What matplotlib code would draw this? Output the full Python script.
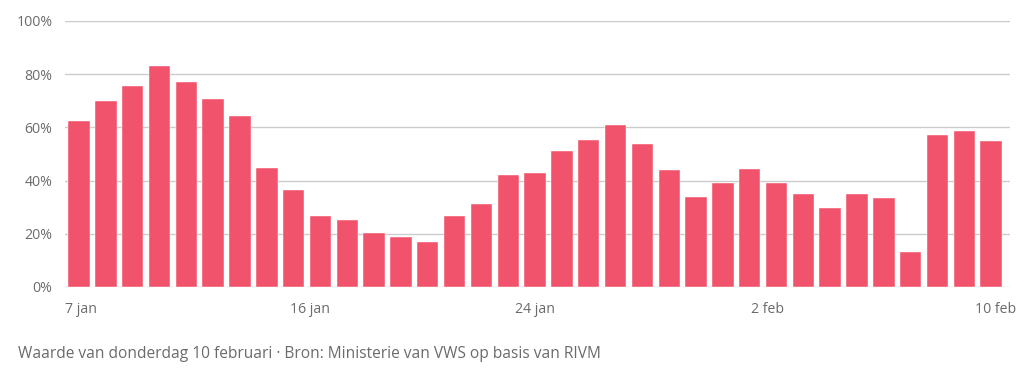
import matplotlib
matplotlib.use("Agg")
import matplotlib.pyplot as plt
from matplotlib.ticker import FuncFormatter
import matplotlib.transforms as mtransforms

plt.rcParams['font.family'] = ['Open Sans', 'DejaVu Sans']

dates = [f"{d} jan" for d in range(7, 32)] + [f"{d} feb" for d in range(1, 11)]
values = [62.4, 70.0, 75.7, 83.2, 77.2, 70.6, 64.3, 44.9, 36.3, 26.8, 25.3,
          20.2, 18.8, 16.9, 26.8, 31.2, 42.1, 43.0, 51.0, 55.3, 60.9, 53.9, 43.9,
          33.9, 39.1, 44.4, 39.1, 35.0, 29.7, 35.0, 33.5, 13.0, 57.1, 58.5, 54.8]
tick_dates = ["7 jan", "16 jan", "24 jan", "2 feb", "10 feb"]
y_ticks = [0, 20, 40, 60, 80, 100]
caption = "Waarde van donderdag 10 februari · Bron: Ministerie van VWS op basis van RIVM"

bar_color = "#F0536B"
text_color = "#6b6b6b"
grid_color = "#cccccc"

fig = plt.figure(figsize=(10.24, 3.76), dpi=100)
ax = fig.add_axes([65/1024, 89/376, 945/1024, 266/376])

x = list(range(len(values)))
ax.bar(x, values, width=0.8, color=bar_color, edgecolor="white", linewidth=0.3, zorder=3)

ax.set_ylim(0, 100)
ax.set_xlim(-0.52, len(values) - 0.3)
ax.set_yticks(y_ticks)
ax.yaxis.set_major_formatter(FuncFormatter(lambda v, p: f"{v:.0f}%"))
ax.grid(axis="y", color=grid_color, linewidth=1.0, zorder=0)
ax.set_axisbelow(True)
for s in ax.spines.values():
    s.set_visible(False)

tpos = [dates.index(t) for t in tick_dates]
ax.set_xticks(tpos)
ax.set_xticklabels(tick_dates)
ax.tick_params(axis="both", length=0, labelsize=10.2, labelcolor=text_color)
ax.tick_params(axis="x", pad=11)
ax.tick_params(axis="y", pad=9)
labels = ax.get_xticklabels()
labels[0].set_horizontalalignment("left")
labels[-1].set_horizontalalignment("right")

pitch_in = 26.83 / 100
off_left = mtransforms.ScaledTranslation(-(tpos[0] + 0.52) * pitch_in, 0, fig.dpi_scale_trans)
labels[0].set_transform(labels[0].get_transform() + off_left)
off_right = mtransforms.ScaledTranslation(((len(values) - 0.3) - tpos[-1]) * pitch_in + 0.06, 0, fig.dpi_scale_trans)
labels[-1].set_transform(labels[-1].get_transform() + off_right)
labels[1].set_transform(labels[1].get_transform() + mtransforms.ScaledTranslation(-0.10, 0, fig.dpi_scale_trans))
labels[3].set_transform(labels[3].get_transform() + mtransforms.ScaledTranslation(-0.09, 0, fig.dpi_scale_trans))

fig.text(18/1024, 1 - 354/376, caption, fontsize=11.2, color=text_color, va="center", ha="left")

fig.savefig("out.png", dpi=100, facecolor="white")
